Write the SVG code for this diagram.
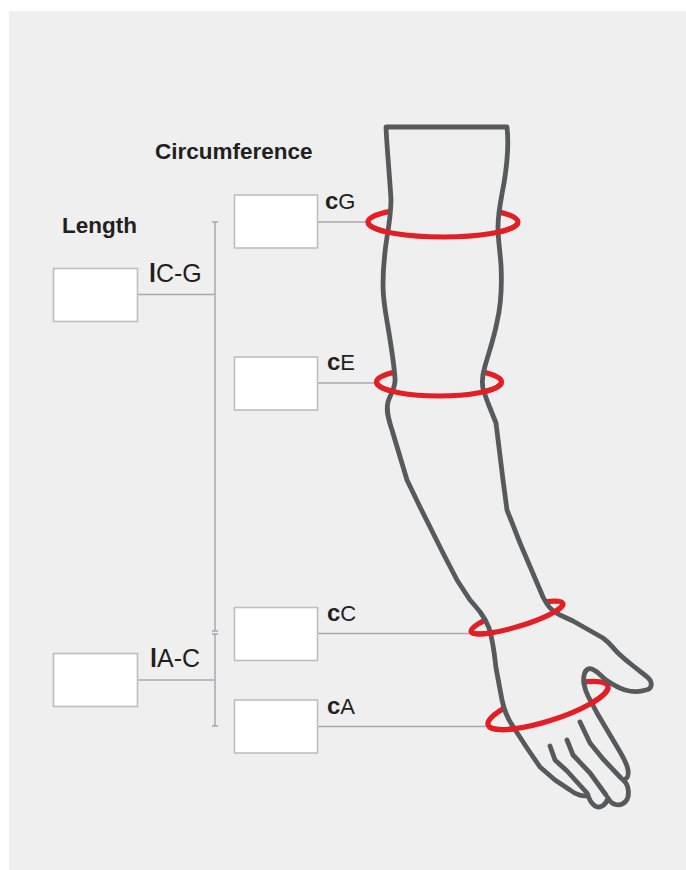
<svg xmlns="http://www.w3.org/2000/svg" width="686" height="870" viewBox="0 0 686 870">
<style>
.bg{fill:#efefef}
.box{fill:#fff;stroke:#bcbec0;stroke-width:1.6}
.con{stroke:#a7a9ac;stroke-width:1.5;fill:none}
.head{font-family:"Liberation Sans",Arial,sans-serif;font-weight:bold;font-size:22.5px;fill:#231f20}
.lbl{font-family:"Liberation Sans",Arial,sans-serif;font-size:25px;fill:#231f20}
.clbl{font-family:"Liberation Sans",Arial,sans-serif;font-size:22px;fill:#231f20}
.b{font-weight:bold}
.arm{fill:#efefef;stroke:#58595b;stroke-width:4.8;stroke-linejoin:round;stroke-linecap:round}
.fing{fill:none;stroke:#58595b;stroke-width:4.8;stroke-linejoin:round;stroke-linecap:round}
.ring{fill:none;stroke:#e31e24;stroke-width:5.2;stroke-linecap:round}
</style>
<rect class="bg" x="9" y="11" width="677" height="859"/>
<text class="head" x="155" y="159">Circumference</text>
<text class="head" x="62" y="233">Length</text>

<g id="connectors">
<line class="con" x1="215" y1="222" x2="215" y2="631"/>
<line class="con" x1="212" y1="222" x2="218" y2="222"/>
<line class="con" x1="212" y1="631" x2="218" y2="631"/>
<line class="con" x1="215" y1="634" x2="215" y2="726"/>
<line class="con" x1="212" y1="634" x2="218" y2="634"/>
<line class="con" x1="212" y1="726" x2="218" y2="726"/>
<line class="con" x1="137.5" y1="294.5" x2="215" y2="294.5"/>
<line class="con" x1="137.5" y1="680" x2="215" y2="680"/>
<line class="con" x1="317.5" y1="222" x2="369" y2="222"/>
<line class="con" x1="317.5" y1="383" x2="378" y2="383"/>
<line class="con" x1="317.5" y1="633.5" x2="472" y2="633.5"/>
<line class="con" x1="317.5" y1="726.5" x2="489" y2="726.5"/>
</g>

<g id="node-lCG">
<rect class="box" x="53.5" y="268.5" width="84" height="53"/>
<text class="lbl" x="149" y="282"><tspan class="b">l</tspan>C-G</text>
</g>
<g id="node-lAC">
<rect class="box" x="53.5" y="653.5" width="84" height="53"/>
<text class="lbl" x="150" y="667"><tspan class="b">l</tspan>A-C</text>
</g>
<g id="node-cG">
<rect class="box" x="234.5" y="195" width="83" height="53"/>
<text class="clbl" x="325" y="209"><tspan class="b" font-size="24px">c</tspan>G</text>
</g>
<g id="node-cE">
<rect class="box" x="234.5" y="357" width="83" height="53"/>
<text class="clbl" x="327" y="370"><tspan class="b" font-size="24px">c</tspan>E</text>
</g>
<g id="node-cC">
<rect class="box" x="234.5" y="607.5" width="83" height="53"/>
<text class="clbl" x="327" y="621"><tspan class="b" font-size="24px">c</tspan>C</text>
</g>
<g id="node-cA">
<rect class="box" x="234.5" y="700" width="83" height="53"/>
<text class="clbl" x="327" y="714"><tspan class="b" font-size="24px">c</tspan>A</text>
</g>

<g id="arm">
<ellipse class="ring" cx="443" cy="222" rx="75" ry="15"/>
<ellipse class="ring" cx="439" cy="382" rx="62.5" ry="14"/>
<ellipse class="ring" cx="517" cy="617.5" rx="48" ry="9" transform="rotate(-17 517 617.5)"/>
<ellipse class="ring" cx="548" cy="705.5" rx="63" ry="15" transform="rotate(-18 548 705.5)"/>
<path class="arm" d="M 386 127 L 507 127 C 509 145 507 165 504 183 C 501 200 498 212 498 227 C 498 240 500 250 501 265 C 502 285 501 305 497 322 C 494 338 489 352 485 366 C 482 376 481 384 484 392 L 488 403 L 496 423 L 503 480 L 507 510 L 520 543 L 543 597 C 547 605 551 611 560 615 L 573 621 L 603 638 C 610 643 613 648 617 652 C 622 657 627 661 632 665 L 646 676 C 654 682 652 689 646 690 C 640 692 632 692 625 690 C 618 688 612 684 606 680 L 597 672 C 593 669 590 668 588 669 C 584 671 583 678 584 684 C 585 689 586 692 588 696 L 597 713 L 613 740 C 620 752 627 762 628 770 C 629 777 627 779 623 780 C 629 784 630 796 626 801 C 621 807 612 806 608 798 C 606 805 600 809 595 806 C 591 803 589 799 588 795 C 584 797 576 795 570 790 L 555 780 L 540 767 L 527 748 L 514 728 C 507 718 504 710 502 700 L 496 668 C 494 650 493 640 489 628 C 485 617 478 609 470 600 L 457 580 L 443 553 L 420 507 L 407 480 L 392 430 C 388 418 386 410 388 402 C 390 394 396 388 395 378 C 394 365 391 345 388 327 C 385 310 383 300 383 285 C 383 268 385 250 387 237 C 389 225 391 212 391 200 C 390 180 387 150 386 127 Z"/>
<path class="fing" d="M 580 722 L 590 743 L 603 759 L 621 778"/>
<path class="fing" d="M 567 740 L 573 755 L 590 773 L 606 795"/>
<path class="fing" d="M 550 746 L 555 760 L 567 771 L 587 793"/>
<path class="ring" d="M 369.14 224.6 A 75 15 0 0 0 516.86 224.6"/>
<path class="ring" d="M 377.45 384.43 A 62.5 14 0 0 0 500.55 384.43"/>
<path class="ring" d="M 472.26 632.82 A 48 9 -17 0 0 562.66 605.17"/>
<path class="ring" d="M 489.8 727.15 A 63 15 -18 0 0 607.8 688.8"/>
</g>
</svg>
